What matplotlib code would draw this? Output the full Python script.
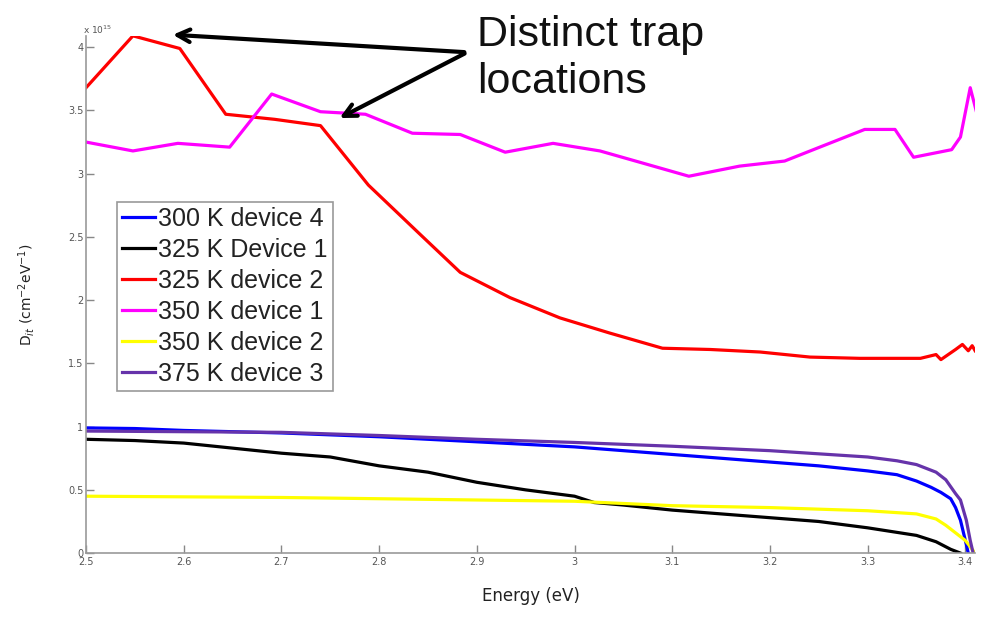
import matplotlib
matplotlib.use("Agg")
import matplotlib.pyplot as plt

# Energy (eV) / Dit in units of 1e15 cm^-2 eV^-1
e_300_d4 = [2.5, 2.55, 2.6, 2.7, 2.8, 2.9, 3.0, 3.1, 3.2, 3.25, 3.3, 3.33, 3.35,
            3.365, 3.375, 3.385, 3.39, 3.395, 3.4, 3.403]
d_300_d4 = [0.99, 0.985, 0.97, 0.95, 0.92, 0.88, 0.84, 0.78, 0.72, 0.69, 0.65, 0.62, 0.57,
            0.52, 0.48, 0.43, 0.36, 0.26, 0.10, 0.0]

e_325_d1 = [2.5, 2.55, 2.6, 2.65, 2.7, 2.75, 2.8, 2.85, 2.9, 2.95, 3.0, 3.02, 3.05,
            3.1, 3.15, 3.2, 3.25, 3.3, 3.35, 3.37, 3.385, 3.395]
d_325_d1 = [0.90, 0.89, 0.87, 0.83, 0.79, 0.76, 0.69, 0.64, 0.56, 0.50, 0.45, 0.40, 0.38,
            0.34, 0.31, 0.28, 0.25, 0.20, 0.14, 0.09, 0.03, 0.0]

e_325_d2 = [2.5, 2.548, 2.596, 2.643, 2.693, 2.74, 2.789, 2.842, 2.883, 2.934, 2.985,
            3.036, 3.09, 3.139, 3.19, 3.241, 3.292, 3.354, 3.37, 3.375, 3.39, 3.397,
            3.403, 3.407, 3.41]
d_325_d2 = [3.68, 4.09, 3.99, 3.47, 3.43, 3.38, 2.91, 2.52, 2.22, 2.02, 1.86,
            1.74, 1.62, 1.61, 1.59, 1.55, 1.54, 1.54, 1.57, 1.53, 1.61, 1.65,
            1.60, 1.64, 1.60]

e_350_d1 = [2.5, 2.548, 2.594, 2.647, 2.69, 2.74, 2.786, 2.834, 2.883, 2.929, 2.978,
            3.026, 3.067, 3.117, 3.169, 3.215, 3.251, 3.297, 3.328, 3.347, 3.386,
            3.395, 3.405, 3.411]
d_350_d1 = [3.25, 3.18, 3.24, 3.21, 3.63, 3.49, 3.47, 3.32, 3.31, 3.17, 3.24,
            3.18, 3.09, 2.98, 3.06, 3.10, 3.21, 3.35, 3.35, 3.13, 3.19,
            3.29, 3.68, 3.50]

e_350_d2 = [2.5, 2.6, 2.7, 2.8, 2.9, 3.0, 3.1, 3.2, 3.3, 3.35, 3.37, 3.38, 3.39,
            3.4, 3.41]
d_350_d2 = [0.45, 0.445, 0.44, 0.43, 0.42, 0.41, 0.375, 0.36, 0.335, 0.31, 0.27, 0.22, 0.16,
            0.10, 0.0]

e_375_d3 = [2.5, 2.6, 2.7, 2.8, 2.9, 3.0, 3.1, 3.2, 3.3, 3.33, 3.35, 3.37, 3.38,
            3.39, 3.395, 3.401, 3.405, 3.408]
d_375_d3 = [0.965, 0.96, 0.955, 0.93, 0.90, 0.875, 0.845, 0.81, 0.76, 0.73, 0.70, 0.64, 0.58,
            0.47, 0.42, 0.26, 0.10, 0.0]

labels = ["300 K device 4", "325 K Device 1", "325 K device 2",
          "350 K device 1", "350 K device 2", "375 K device 3"]
colors = ["#0000ff", "#000000", "#ff0000", "#ff00ff", "#ffff00", "#6633aa"]

series = [(e_300_d4, d_300_d4), (e_325_d1, d_325_d1), (e_325_d2, d_325_d2),
          (e_350_d1, d_350_d1), (e_350_d2, d_350_d2), (e_375_d3, d_375_d3)]

fig = plt.figure(figsize=(9.81, 6.18), dpi=100)
ax = fig.add_axes([0.0877, 0.105, 0.9063, 0.837])

for (e, d), lab, c in zip(series, labels, colors):
    ax.plot(e, d, color=c, lw=2.3, label=lab)

ax.set_xlim(2.5, 3.41)
ax.set_ylim(0, 4.09)
ax.set_xticks([2.5, 2.6, 2.7, 2.8, 2.9, 3.0, 3.1, 3.2, 3.3, 3.4])
ax.set_xticklabels(["2.5", "2.6", "2.7", "2.8", "2.9", "3", "3.1", "3.2", "3.3", "3.4"])
ax.set_yticks([0, 0.5, 1, 1.5, 2, 2.5, 3, 3.5, 4])
ax.set_yticklabels(["0", "0.5", "1", "1.5", "2", "2.5", "3", "3.5", "4"])
ax.tick_params(direction="in", length=6, width=1, colors="#888888",
               labelcolor="#555555", labelsize=7, pad=2)
ax.tick_params(axis="x", pad=3)
for s in ["top", "right"]:
    ax.spines[s].set_visible(False)
for s in ["left", "bottom"]:
    ax.spines[s].set_color("#999999")
    ax.spines[s].set_linewidth(1.2)

ax.text(-0.003, 1.0, r"x 10$^{15}$", transform=ax.transAxes, fontsize=6.5,
        color="#555555", ha="left", va="bottom")

ax.set_xlabel("Energy (eV)", fontsize=12, color="#222222", labelpad=14)
ax.set_ylabel(r"D$_{it}$ (cm$^{-2}$eV$^{-1}$)", fontsize=10, color="#222222", labelpad=22)

leg = ax.legend(loc="upper left", bbox_to_anchor=(0.035, 0.679),
                prop={"family": "Liberation Sans", "size": 18},
                handlelength=1.3, handletextpad=0.15, labelspacing=0.28,
                borderpad=0.2, borderaxespad=0, fancybox=False, framealpha=1)
leg.get_frame().set_edgecolor("#999999")
leg.get_frame().set_linewidth(1.2)
for t in leg.get_texts():
    t.set_color("#222222")

fig.text(0.486, 0.975, "Distinct trap\nlocations", family="Liberation Sans",
         fontsize=31, ha="left", va="top", linespacing=1.22, color="#111111")

arrow_kw = dict(arrowstyle="->,head_length=0.9,head_width=0.45", color="black", lw=3)
ax.annotate("", xy=(2.586, 4.10), xytext=(2.89, 3.96), arrowprops=arrow_kw,
            annotation_clip=False)
ax.annotate("", xy=(2.757, 3.43), xytext=(2.89, 3.96), arrowprops=arrow_kw,
            annotation_clip=False)

fig.savefig("out.png", dpi=100)
